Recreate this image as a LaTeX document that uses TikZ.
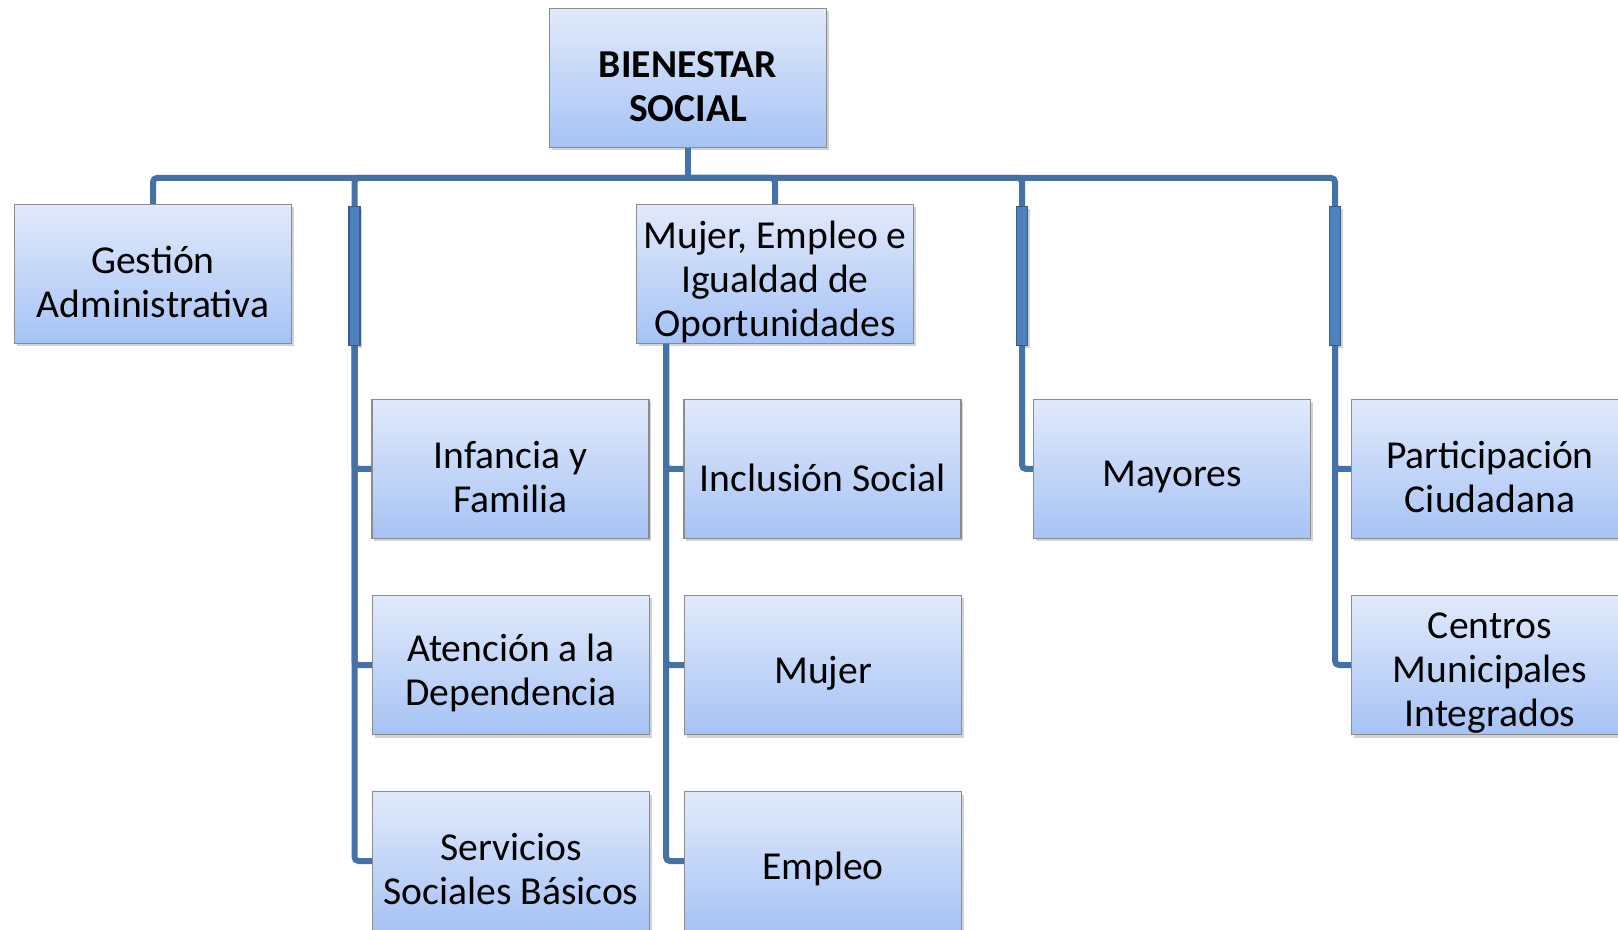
\documentclass[tikz,border=0pt]{standalone}
\usepackage{fontspec}
\setmainfont{Carlito}
\usetikzlibrary{shadows}
\definecolor{linec}{HTML}{4472A6}
\definecolor{boxtop}{HTML}{E1EAFB}
\definecolor{boxbot}{HTML}{A6C3F5}
\definecolor{boxedge}{HTML}{8C8C8C}
\definecolor{barfill}{HTML}{4F81BD}
\definecolor{baredge}{HTML}{385D8A}
\tikzset{
  orgbox/.style={draw=boxedge, line width=0.6pt, top color=boxtop, bottom color=boxbot,
    minimum width=138.5pt, minimum height=69.5pt, inner sep=0pt,
    drop shadow={shadow xshift=1.2pt, shadow yshift=-1.5pt, opacity=0.35}},
  orgtext/.style={align=center, inner sep=0pt, yshift=-4.2pt,
    font=\fontsize{19.8}{22}\selectfont},
  thinbar/.style={draw=baredge, line width=0.6pt, fill=barfill,
    minimum width=5.5pt, minimum height=69.5pt, inner sep=0pt,
    drop shadow={shadow xshift=1.2pt, shadow yshift=-1.5pt, opacity=0.35}},
  conn/.style={draw=linec, line width=3pt, rounded corners=2pt}
}
\newcommand\orgnode[4][]{%
  \node[orgbox] (#2) at (#3) {};
  \node[orgtext,#1] (#2-t) at (#2.center) {#4};}
\begin{document}
\begin{tikzpicture}[x=0.5pt, y=-0.5pt]
\fill[white] (0,0) rectangle (1618,930);
\useasboundingbox (0,0) rectangle (1618,930);

\coordinate (j) at (688,178);
\coordinate (m0) at (666,344);

\orgnode[font=\fontsize{19.8}{22}\bfseries\selectfont]{top}{688,78}{BIENESTAR\\SOCIAL}
\orgnode{ga}{153,274}{Gestión\\Administrativa}
\node[thinbar] (bar1) at (354.5,276) {};
\orgnode{mue}{775,274}{Mujer, Empleo e\\Igualdad de\\Oportunidades}
\node[thinbar] (bar2) at (1022,276) {};
\node[thinbar] (bar3) at (1335,276) {};

\orgnode{infancia}{510.5,469}{Infancia y\\Familia}
\orgnode{inclusion}{822.5,469}{Inclusión Social}
\orgnode{mayores}{1172,469}{Mayores}
\orgnode{particip}{1490,469}{Participación\\Ciudadana}

\orgnode{atencion}{511,665}{Atención a la\\Dependencia}
\orgnode{mujer}{823,665}{Mujer}
\orgnode{centros}{1490,665}{Centros\\Municipales\\Integrados}

\orgnode{servicios}{511,861}{Servicios\\Sociales Básicos}
\orgnode{empleo}{823,861}{Empleo}

\draw[conn] (top.south) -- (j);
\draw[conn] (ga.north) |- (j) -| (bar3.north);
\draw[conn] (j) -| (bar1.north);
\draw[conn] (j) -| (mue.north);
\draw[conn] (j) -| (bar2.north);

\draw[conn] (bar1.south) |- (infancia.west);
\draw[conn] (bar1.south) |- (atencion.west);
\draw[conn] (bar1.south) |- (servicios.west);

\draw[conn] (m0) |- (inclusion.west);
\draw[conn] (m0) |- (mujer.west);
\draw[conn] (m0) |- (empleo.west);

\draw[conn] (bar2.south) |- (mayores.west);

\draw[conn] (bar3.south) |- (particip.west);
\draw[conn] (bar3.south) |- (centros.west);
\end{tikzpicture}
\end{document}
